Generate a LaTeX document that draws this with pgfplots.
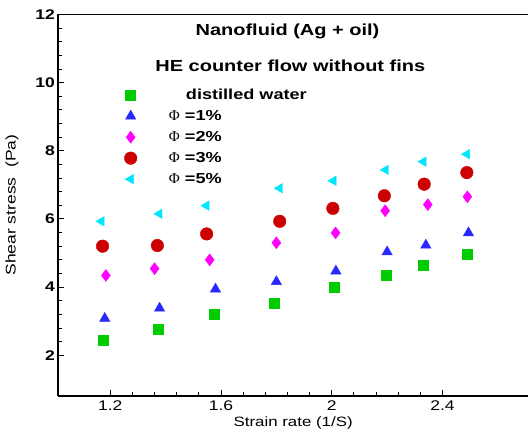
\documentclass[border=0pt]{standalone}
\usepackage{fontspec}
\setmainfont{Liberation Sans}[FakeStretch=1.25]
\newfontfamily\phifont{Liberation Serif}
\usepackage{pgfplots}
\pgfplotsset{compat=1.18}
\definecolor{cgreen}{RGB}{0,204,0}
\definecolor{cblue}{RGB}{40,40,255}
\definecolor{cmag}{RGB}{255,0,255}
\definecolor{cred}{RGB}{204,0,0}
\definecolor{ccyan}{RGB}{0,230,255}
\newcommand{\phis}{\hspace*{31bp}{\phifont\fontsize{15bp}{15bp}\selectfont\mdseries Φ}}
\begin{document}
\begin{tikzpicture}
\begin{axis}[
  name=ax,
  scale only axis,
  width=470bp, height=381.5bp,
  xmin=1.012, xmax=2.709,
  ymin=0.81, ymax=12,
  axis x line*=box,
  axis y line*=left,
  xtick pos=left, ytick pos=left,
  tick align=inside,
  xtick={1.2,1.6,2,2.4},
  xticklabels={1.2,1.6,2,2.4},
  ytick={2,4,6,8,10,12},
  minor x tick num=4,
  minor y tick num=4,
  major tick length=6bp, minor tick length=4bp,
  axis line style={line width=1.6bp},
  every tick/.style={black, line width=0.9bp},
  /pgf/number format/assume math mode=true,
  x tick label style={font=\fontsize{14bp}{16bp}\selectfont, yshift=-1bp},
  y tick label style={font=\fontsize{14bp}{16bp}\selectfont\bfseries},
  xlabel={Strain rate (1/S)},
  ylabel={Shear stress\ \ (Pa)},
  xlabel style={font=\fontsize{13.5bp}{15bp}\selectfont, yshift=0bp},
  ylabel style={font=\fontsize{14bp}{15bp}\selectfont, yshift=10bp},
  legend style={at={(rel axis cs:0.134,0.815)}, anchor=north west, draw=none, fill=none,
    font=\fontsize{14.5bp}{16bp}\selectfont\bfseries, row sep=5bp,
    nodes={inner sep=1bp, text height=11bp, text depth=3bp}},
  legend cell align=left,
  clip=false,
]
\addplot[only marks, mark=square*, mark size=5bp, color=cgreen] coordinates {
(1.176,2.43) (1.374,2.77) (1.577,3.20) (1.793,3.54) (2.010,3.99) (2.195,4.34) (2.331,4.63) (2.490,4.97)};
\addlegendentry{\hspace*{48bp}distilled water}
\addplot[only marks, mark=triangle*, mark size=6bp, color=cblue] coordinates {
(1.180,3.08) (1.378,3.38) (1.580,3.94) (1.800,4.16) (2.015,4.47) (2.200,5.03) (2.340,5.23) (2.494,5.59)};
\addlegendentry{\phis\ =1\%}
\addplot[only marks, mark=diamond*, mark size=6bp, color=cmag] coordinates {
(1.184,4.34) (1.360,4.54) (1.559,4.80) (1.800,5.30) (2.014,5.59) (2.193,6.24) (2.347,6.42) (2.490,6.65)};
\addlegendentry{\phis\ =2\%}
\addplot[only marks, mark=*, mark size=6.3bp, color=cred] coordinates {
(1.172,5.20) (1.370,5.22) (1.548,5.56) (1.812,5.93) (2.004,6.31) (2.190,6.68) (2.334,7.02) (2.488,7.36)};
\addlegendentry{\phis\ =3\%}
\addplot[only marks, mark=triangle*, mark size=5.5bp, mark options={rotate=90}, color=ccyan] coordinates {
(1.168,5.93) (1.377,6.15) (1.547,6.39) (1.812,6.90) (2.006,7.12) (2.195,7.44) (2.331,7.68) (2.488,7.90)};
\addlegendentry{\phis\ =5\%}
\node[font=\fontsize{16bp}{18bp}\selectfont\bfseries] at (rel axis cs:0.488,0.955) {Nanofluid (Ag + oil)};
\node[font=\fontsize{16bp}{18bp}\selectfont\bfseries] at (rel axis cs:0.494,0.866) {HE counter flow without fins};
\end{axis}
\pgfresetboundingbox
\path[use as bounding box] ([xshift=-58.3bp,yshift=-40bp]ax.south west) rectangle ([yshift=14.5bp]ax.north east);
\end{tikzpicture}
\end{document}
